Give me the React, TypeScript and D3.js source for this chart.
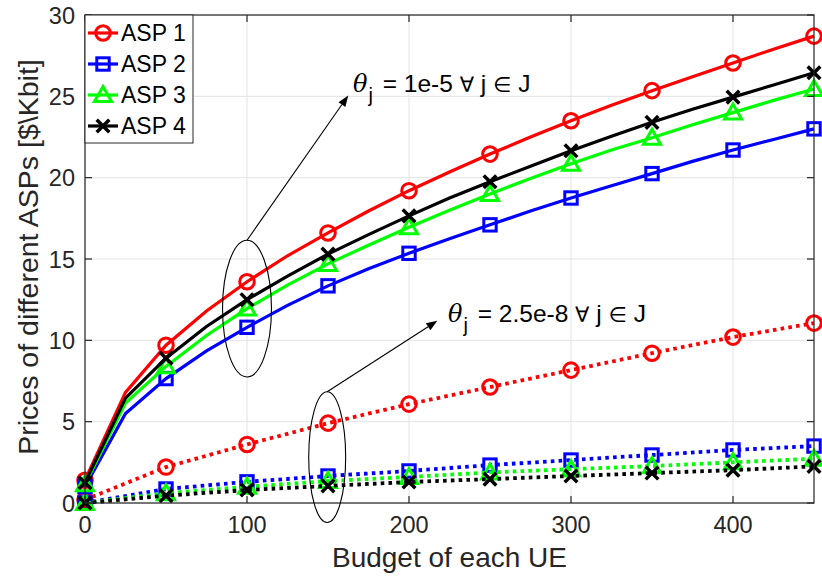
import React from "react";
import * as d3 from "d3";

// Budget grid for the solid (theta = 1e-5) curves
const budgetFine = [0, 25, 50, 75, 100, 125, 150, 175, 200, 225, 250, 275, 300, 325, 350, 375, 400, 425, 450];
// Budget grid for the dotted (theta = 2.5e-8) curves
const budgetCoarse = [0, 50, 100, 150, 200, 250, 300, 350, 400, 450];

const asp1High = [1.4, 6.8, 9.7, 11.8, 13.6, 15.2, 16.6, 17.95, 19.2, 20.35, 21.45, 22.5, 23.5, 24.45, 25.35, 26.2, 27.05, 27.9, 28.7];
const asp2High = [1.0, 5.5, 7.65, 9.35, 10.8, 12.15, 13.35, 14.4, 15.35, 16.25, 17.1, 17.95, 18.75, 19.5, 20.25, 21.0, 21.7, 22.35, 23.0];
const asp3High = [1.15, 6.15, 8.4, 10.3, 11.95, 13.4, 14.7, 15.85, 16.95, 18.0, 19.0, 19.95, 20.85, 21.7, 22.45, 23.25, 24.0, 24.75, 25.45];
const asp4High = [1.25, 6.45, 8.9, 10.85, 12.5, 13.95, 15.3, 16.5, 17.65, 18.75, 19.75, 20.7, 21.65, 22.55, 23.4, 24.2, 24.95, 25.7, 26.45];

const asp1Low = [0.2, 2.21, 3.6, 4.91, 6.08, 7.13, 8.17, 9.21, 10.2, 11.06];
const asp2Low = [0.0, 0.86, 1.3, 1.66, 1.97, 2.33, 2.64, 2.95, 3.26, 3.5];
const asp3Low = [0.0, 0.6, 1.0, 1.35, 1.6, 1.88, 2.08, 2.27, 2.5, 2.72];
const asp4Low = [0.0, 0.45, 0.8, 1.05, 1.29, 1.47, 1.66, 1.84, 2.02, 2.25];

const seriesNames = ["ASP 1", "ASP 2", "ASP 3", "ASP 4"];
const seriesColors = ["#ff0000", "#0000ff", "#00ff00", "#000000"];
const seriesMarkers = ["circle", "square", "triangle", "x"];

const xTicks = [0, 100, 200, 300, 400];
const yTicks = [0, 5, 10, 15, 20, 25, 30];

const xLabel = "Budget of each UE";
const yLabel = "Prices of different ASPs [$\\Kbit]";

const W = 822;
const H = 586;
const plot = { left: 85, right: 814, top: 15, bottom: 503 };
const font = "'Liberation Sans', Arial, Helvetica, sans-serif";
const axisColor = "#262626";

function Marker({ kind, x, y, color }: { kind: string; x: number; y: number; color: string }) {
  const sw = 3;
  if (kind === "circle") {
    return <circle cx={x} cy={y} r={7.3} fill="none" stroke={color} strokeWidth={sw} />;
  }
  if (kind === "square") {
    return <rect x={x - 6.2} y={y - 6.2} width={12.4} height={12.4} fill="none" stroke={color} strokeWidth={sw} />;
  }
  if (kind === "triangle") {
    const p = `${x},${y - 8.5} ${x + 8.5},${y + 6.5} ${x - 8.5},${y + 6.5}`;
    return <polygon points={p} fill="none" stroke={color} strokeWidth={sw} strokeLinejoin="miter" />;
  }
  const s = 6.3;
  return (
    <g stroke={color} strokeWidth={3.5} strokeLinecap="butt">
      <line x1={x - s} y1={y - s} x2={x + s} y2={y + s} />
      <line x1={x - s} y1={y + s} x2={x + s} y2={y - s} />
    </g>
  );
}

export default function App() {
  const x = d3.scaleLinear().domain([0, 450]).range([plot.left, plot.right]);
  const y = d3.scaleLinear().domain([0, 30]).range([plot.bottom, plot.top]);

  const line = d3
    .line<[number, number]>()
    .x((d) => x(d[0]))
    .y((d) => y(d[1]));

  const high = [asp1High, asp2High, asp3High, asp4High];
  const low = [asp1Low, asp2Low, asp3Low, asp4Low];

  const zip = (xs: number[], ys: number[]) => xs.map((v, i) => [v, ys[i]] as [number, number]);

  // annotation geometry in data units
  const ellHigh = { cx: 100, cy: 11.95, rx: 15.1, ry: 4.2 };
  const ellLow = { cx: 149.5, cy: 2.82, rx: 11.4, ry: 4.02 };
  const arrowHigh = { from: [100, 16.15], to: [162.5, 25.05] };
  const arrowLow = { from: [149.5, 6.84], to: [217.5, 11.2] };

  const arrowPath = (a: { from: number[]; to: number[] }) => {
    const x1 = x(a.from[0]);
    const y1 = y(a.from[1]);
    const x2 = x(a.to[0]);
    const y2 = y(a.to[1]);
    const ang = Math.atan2(y2 - y1, x2 - x1);
    const L = 11;
    const Wd = 4.2;
    const bx = x2 - L * Math.cos(ang);
    const by = y2 - L * Math.sin(ang);
    const p1 = [bx + Wd * Math.sin(ang), by - Wd * Math.cos(ang)];
    const p2 = [bx - Wd * Math.sin(ang), by + Wd * Math.cos(ang)];
    return (
      <g>
        <line x1={x1} y1={y1} x2={bx} y2={by} stroke="#000" strokeWidth={1.1} />
        <polygon points={`${x2},${y2} ${p1[0]},${p1[1]} ${p2[0]},${p2[1]}`} fill="#000" />
      </g>
    );
  };

  const ellipse = (e: { cx: number; cy: number; rx: number; ry: number }) => (
    <ellipse
      cx={x(e.cx)}
      cy={y(e.cy)}
      rx={x(e.rx) - x(0)}
      ry={y(0) - y(e.ry)}
      fill="none"
      stroke="#000"
      strokeWidth={1.1}
    />
  );

  const annotation = (tx: number, ty: number, value: string) => (
    <text x={tx} y={ty} fontFamily={font} fontSize={24.5} fill="#000">
      <tspan fontStyle="italic" fontFamily="'DejaVu Serif', 'Liberation Serif', serif" fontSize={24}>
        θ
      </tspan>
      <tspan dy={10} dx={1} fontSize={20}>
        j
      </tspan>
      <tspan dy={-10} dx={3}>{` = ${value} `}</tspan>
      <tspan fontFamily="'DejaVu Sans', sans-serif" fontSize={21}>
        ∀
      </tspan>
      <tspan>{" j "}</tspan>
      <tspan fontFamily="'DejaVu Sans', sans-serif" fontSize={21}>
        ∈
      </tspan>
      <tspan>{" J"}</tspan>
    </text>
  );

  return (
    <svg width={W} height={H} style={{ position: "absolute", left: 0, top: 0, background: "#fff" }}>
      <rect x={0} y={0} width={W} height={H} fill="#fff" />
      {/* grid */}
      <g stroke="#e3e3e3" strokeWidth={1}>
        {xTicks.map((t) => (
          <line key={"gx" + t} x1={x(t)} x2={x(t)} y1={plot.top} y2={plot.bottom} />
        ))}
        {yTicks.map((t) => (
          <line key={"gy" + t} x1={plot.left} x2={plot.right} y1={y(t)} y2={y(t)} />
        ))}
      </g>

      {/* dotted curves, theta = 2.5e-8 */}
      {low.map((vals, i) => (
        <g key={"low" + i}>
          <path
            d={line(zip(budgetCoarse, vals)) || ""}
            fill="none"
            stroke={seriesColors[i]}
            strokeWidth={3.8}
            strokeDasharray="3.6,4.2"
          />
          {budgetCoarse.map((b, j) => (
            <Marker key={j} kind={seriesMarkers[i]} x={x(b)} y={y(vals[j])} color={seriesColors[i]} />
          ))}
        </g>
      ))}

      {/* solid curves, theta = 1e-5 */}
      {high.map((vals, i) => (
        <g key={"high" + i}>
          <path d={line(zip(budgetFine, vals)) || ""} fill="none" stroke={seriesColors[i]} strokeWidth={3.2} />
          {budgetFine.map((b, j) =>
            b % 50 === 0 ? (
              <Marker key={j} kind={seriesMarkers[i]} x={x(b)} y={y(vals[j])} color={seriesColors[i]} />
            ) : null
          )}
        </g>
      ))}

      {/* axes box and ticks */}
      <rect
        x={plot.left}
        y={plot.top}
        width={plot.right - plot.left}
        height={plot.bottom - plot.top}
        fill="none"
        stroke={axisColor}
        strokeWidth={1.2}
      />
      <g stroke={axisColor} strokeWidth={1.2}>
        {xTicks.map((t) => (
          <g key={"tx" + t}>
            <line x1={x(t)} x2={x(t)} y1={plot.bottom} y2={plot.bottom - 7} />
            <line x1={x(t)} x2={x(t)} y1={plot.top} y2={plot.top + 7} />
          </g>
        ))}
        {yTicks.map((t) => (
          <g key={"ty" + t}>
            <line x1={plot.left} x2={plot.left + 7} y1={y(t)} y2={y(t)} />
            <line x1={plot.right} x2={plot.right - 7} y1={y(t)} y2={y(t)} />
          </g>
        ))}
      </g>
      <g fontFamily={font} fontSize={23.5} fill={axisColor}>
        {xTicks.map((t) => (
          <text key={"lx" + t} x={x(t)} y={533} textAnchor="middle">
            {t}
          </text>
        ))}
        {yTicks.map((t) => (
          <text key={"ly" + t} x={75} y={y(t) + 8.5} textAnchor="end">
            {t}
          </text>
        ))}
      </g>
      <text x={(plot.left + plot.right) / 2} y={567} textAnchor="middle" fontFamily={font} fontSize={28} fill={axisColor}>
        {xLabel}
      </text>
      <text
        transform={`translate(38, 257) rotate(-90)`}
        textAnchor="middle"
        fontFamily={font}
        fontSize={28.5}
        fill={axisColor}
      >
        {yLabel}
      </text>

      {/* annotations */}
      {ellipse(ellHigh)}
      {ellipse(ellLow)}
      {arrowPath(arrowHigh)}
      {arrowPath(arrowLow)}
      {annotation(353, 92, "1e-5")}
      {annotation(448, 322, "2.5e-8")}

      {/* legend */}
      <g>
        <rect x={plot.left} y={plot.top} width={108} height={128} fill="#fff" stroke={axisColor} strokeWidth={1} />
        {seriesNames.map((name, i) => {
          const cy = 33 + i * 31;
          return (
            <g key={name}>
              <line x1={88} x2={118} y1={cy} y2={cy} stroke={seriesColors[i]} strokeWidth={3.2} />
              <Marker kind={seriesMarkers[i]} x={103} y={cy} color={seriesColors[i]} />
              <text x={121} y={cy + 8} fontFamily={font} fontSize={23} fill="#000">
                {name}
              </text>
            </g>
          );
        })}
      </g>
    </svg>
  );
}
